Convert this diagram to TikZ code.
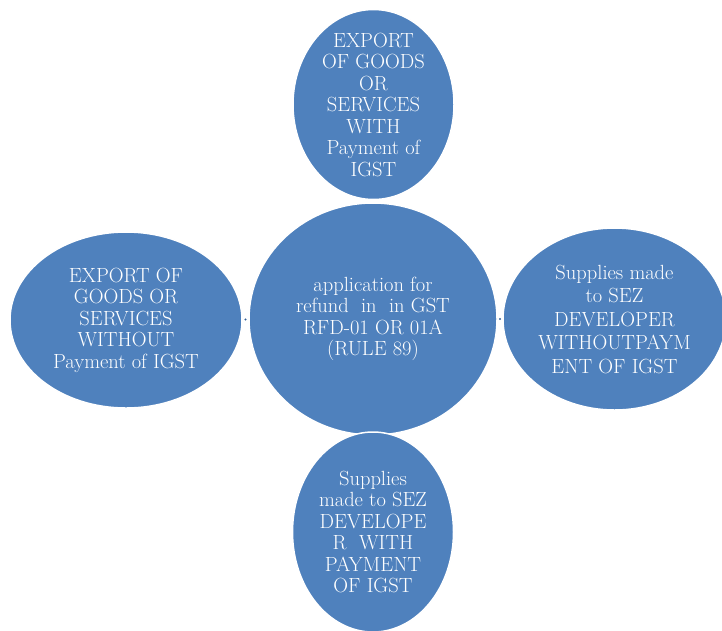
\documentclass[tikz,border=0pt]{standalone}
\usepackage{tikz}
\usetikzlibrary{shapes.geometric,calc}

\definecolor{bubbleblue}{RGB}{79,129,189}
\definecolor{dotblue}{RGB}{52,96,150}

\tikzset{
  bubble/.style={ellipse, fill=bubbleblue, draw=white, line width=1.5pt, inner sep=0pt},
  bubbletext/.style={align=center, text=white, inner sep=0pt, font=\fontsize{20.5}{21.5}\selectfont}
}

\begin{document}
\begin{tikzpicture}[x=1pt,y=1pt,yscale=-1,xscale=1]
\useasboundingbox (0,0) rectangle (722,630);

%Shape: Ellipse top
\node [bubble, minimum width=161, minimum height=190] (top) at (373.5,104.5) {};
%Shape: Ellipse left
\node [bubble, minimum width=232, minimum height=176] (left) at (126,320) {};
%Shape: Ellipse right
\node [bubble, minimum width=223, minimum height=182] (right) at (614.5,319) {};
%Shape: Ellipse centre
\node [bubble, minimum width=248, minimum height=232] (hub) at (373,319) {};
%Shape: Ellipse bottom
\node [bubble, minimum width=161, minimum height=200] (bottom) at (373,532) {};

%Dots between bubbles
\fill [dotblue] ($(left.east)!0.5!(hub.west)$) circle (1.1);
\fill [dotblue] ($(hub.east)!0.5!(right.west)$) circle (1.1);

% Text Node
\node [bubbletext] (top-txt) at (top.center) {EXPORT\\OF GOODS\\OR\\SERVICES\\WITH\\Payment of\\IGST};
% Text Node
\node [bubbletext] (left-txt) at (left.center) {EXPORT OF\\GOODS OR\\SERVICES\\WITHOUT\\Payment of IGST};
% Text Node
\node [bubbletext, font=\fontsize{20.5}{23.5}\selectfont] (right-txt) at (right.center) {Supplies made\\to SEZ\\DEVELOPER\\WITHOUTPAYM\\ENT OF IGST};
% Text Node
\node [bubbletext] (hub-txt) at (hub.center) {application for\\refund\ \ in\ \ in GST\\RFD-01 OR 01A\\(RULE 89)};
% Text Node
\node [bubbletext] (bottom-txt) at (bottom.center) {Supplies\\made to SEZ\\DEVELOPE\\R\ \ WITH\\PAYMENT\\OF IGST};
\end{tikzpicture}
\end{document}
